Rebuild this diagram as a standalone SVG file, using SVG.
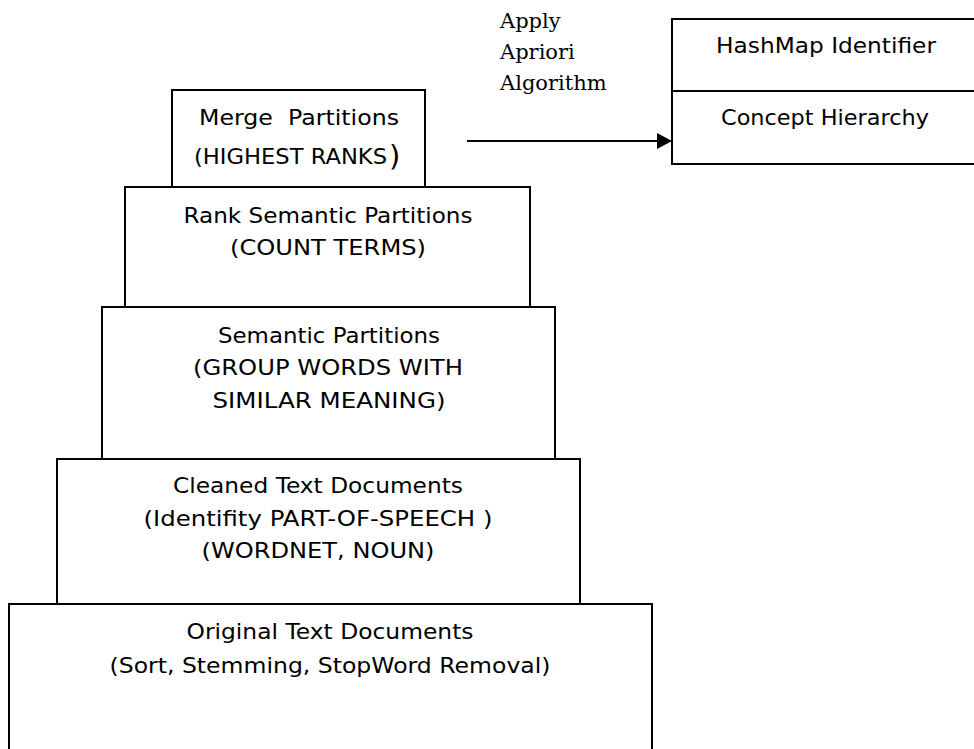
<svg xmlns="http://www.w3.org/2000/svg" width="974" height="749" viewBox="0 0 974 749">
<style>
.box{fill:#fff;stroke:#000;stroke-width:2}
.t{font-family:"DejaVu Sans",Verdana,sans-serif;font-size:22px;fill:#000;text-anchor:middle}
.s{font-family:"DejaVu Serif","Liberation Serif",serif;font-size:21px;fill:#000}
.conn{stroke:#000;stroke-width:2;fill:none}
</style>
<defs>
<marker id="ah" markerUnits="userSpaceOnUse" markerWidth="16" markerHeight="16" refX="15" refY="8" orient="auto">
<path d="M0,0 L15,8 L0,16 Z" fill="#000"/>
</marker>
</defs>
<rect width="974" height="749" fill="#fff"/>
<g id="original">
<rect class="box" x="9" y="604" width="643" height="160"/>
<text class="t" x="330" y="639" textLength="287" lengthAdjust="spacingAndGlyphs">Original Text Documents</text>
<text class="t" x="330" y="673" textLength="441" lengthAdjust="spacingAndGlyphs">(Sort, Stemming, StopWord Removal)</text>
</g>
<g id="cleaned">
<rect class="box" x="57" y="459" width="523" height="145"/>
<text class="t" x="318" y="493" textLength="290" lengthAdjust="spacingAndGlyphs">Cleaned Text Documents</text>
<text class="t" x="318" y="526" textLength="349" lengthAdjust="spacingAndGlyphs">(Identifity PART-OF-SPEECH )</text>
<text class="t" x="318" y="558" textLength="233" lengthAdjust="spacingAndGlyphs">(WORDNET, NOUN)</text>
</g>
<g id="semantic">
<rect class="box" x="102" y="307" width="453" height="152"/>
<text class="t" x="329" y="343" textLength="222" lengthAdjust="spacingAndGlyphs">Semantic Partitions</text>
<text class="t" x="328" y="375" textLength="270" lengthAdjust="spacingAndGlyphs">(GROUP WORDS WITH</text>
<text class="t" x="329" y="408" textLength="233" lengthAdjust="spacingAndGlyphs">SIMILAR MEANING)</text>
</g>
<g id="rank">
<rect class="box" x="125" y="187" width="405" height="120"/>
<text class="t" x="328" y="223" textLength="289" lengthAdjust="spacingAndGlyphs">Rank Semantic Partitions</text>
<text class="t" x="328" y="255" textLength="196" lengthAdjust="spacingAndGlyphs">(COUNT TERMS)</text>
</g>
<g id="merge">
<rect class="box" x="172" y="90" width="253" height="97"/>
<text class="t" x="299" y="125" textLength="200" lengthAdjust="spacingAndGlyphs" xml:space="preserve">Merge  Partitions</text>
<text class="t" x="290.5" y="164" textLength="193" lengthAdjust="spacingAndGlyphs">(HIGHEST RANKS</text>
<text x="389" y="166" font-family="DejaVu Sans,Verdana,sans-serif" font-size="29">)</text>
</g>
<g id="hashmap">
<rect class="box" x="672" y="19" width="320" height="145"/>
<line class="conn" x1="672" y1="91" x2="974" y2="91"/>
<text class="t" x="826" y="53" textLength="220" lengthAdjust="spacingAndGlyphs">HashMap Identifier</text>
<text class="t" x="825" y="125" textLength="208" lengthAdjust="spacingAndGlyphs">Concept Hierarchy</text>
</g>
<g id="connectors">
<line class="conn" x1="467" y1="141" x2="672" y2="141" marker-end="url(#ah)"/>
<text class="s" x="500" y="28">Apply</text>
<text class="s" x="500" y="59">Apriori</text>
<text class="s" x="500" y="90">Algorithm</text>
</g>
</svg>
